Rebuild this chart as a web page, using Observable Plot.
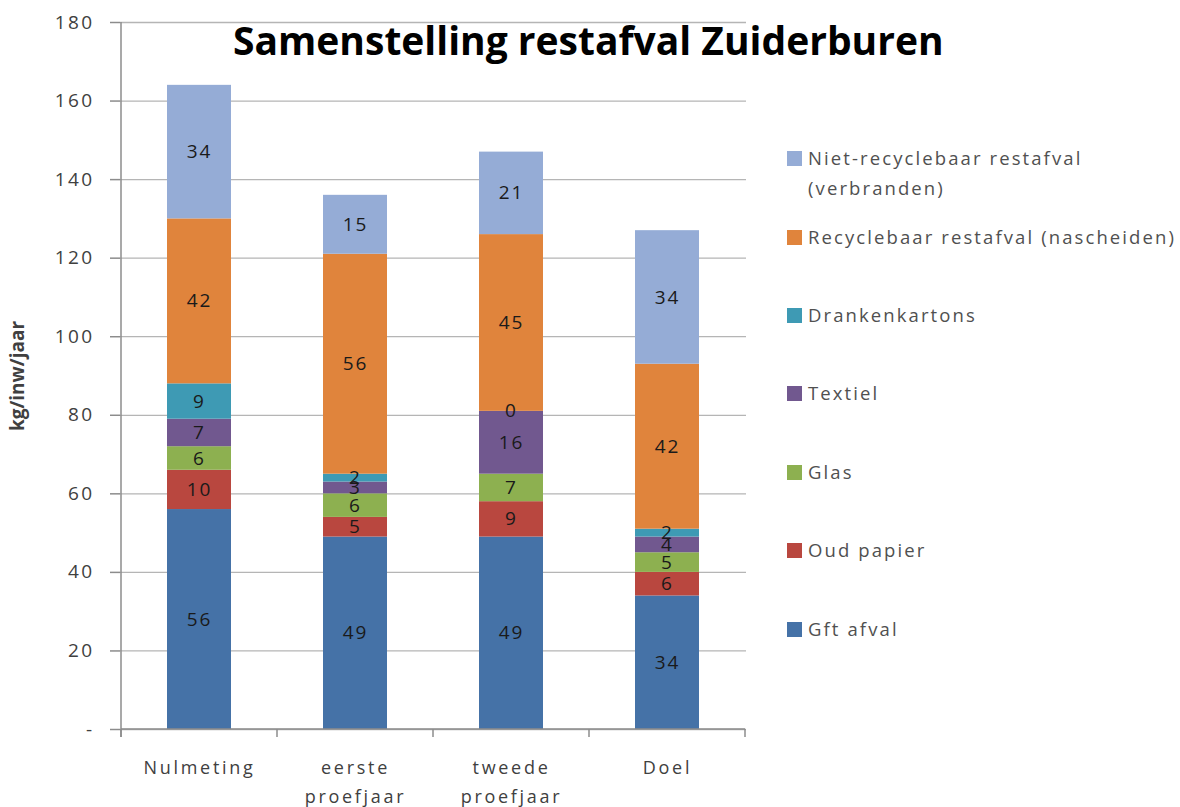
<!DOCTYPE html>
<html>
<head>
<meta charset="utf-8">
<script src="https://cdn.jsdelivr.net/npm/d3@7"></script>
<script src="https://cdn.jsdelivr.net/npm/@observablehq/plot@0.6"></script>
<style>
  body { margin: 0; background: #fff; font-family: "Open Sans", sans-serif; }
  #wrap { position: relative; width: 1180px; height: 807px; }
  #title { position: absolute; left: 0; width: 1180px; top: 14px; font-family: "Open Sans", sans-serif; font-weight: bold; font-size: 39px; line-height: 52px; color: #000; pointer-events: none; }
  #title span { position: absolute; left: 233px; white-space: nowrap; }
  #legend { position: absolute; left: 787px; top: 143px; font-family: "Open Sans", sans-serif; font-size: 18.5px; color: #505050; letter-spacing: 2.1px; }
  .item { position: absolute; left: 0; display: flex; align-items: flex-start; white-space: nowrap; line-height: 30px; }
  .sw { width: 15px; height: 15px; margin-top: 8px; margin-right: 6px; flex: none; }
  svg text { letter-spacing: 1.2px; }
  g[aria-label="y-axis label"] text { font-weight: bold; letter-spacing: 0; }
  g[aria-label="y-axis tick label"] text { font-size: 19px; letter-spacing: 2.4px; }
  g[aria-label="x-axis tick label"] text { letter-spacing: 2.7px; }
  g[aria-label="text"] text { letter-spacing: 2px; }
</style>
</head>
<body>
<div id="wrap">
  <div id="chart"></div>
  <div id="title"><span>Samenstelling restafval Zuiderburen</span></div>
  <div id="legend"></div>
</div>
<script>
const categories = ["Nulmeting", "eerste proefjaar", "tweede proefjaar", "Doel"];
const categoryLabels = ["Nulmeting", "eerste\nproefjaar", "tweede\nproefjaar", "Doel"];
const series = ["Gft afval", "Oud papier", "Glas", "Textiel", "Drankenkartons", "Recyclebaar restafval (nascheiden)", "Niet-recyclebaar restafval (verbranden)"];
const colors = ["#4572A7", "#B9473F", "#8DB050", "#71588F", "#3E9AB4", "#E0843C", "#95ACD6"];
const gftAfval       = [56, 49, 49, 34];
const oudPapier      = [10, 5, 9, 6];
const glas           = [6, 6, 7, 5];
const textiel        = [7, 3, 16, 4];
const drankenkartons = [9, 2, 0, 2];
const recyclebaar    = [42, 56, 45, 42];
const nietRecyclebaar= [34, 15, 21, 34];
const yTicks = [0, 20, 40, 60, 80, 100, 120, 140, 160, 180];
const legendLabels = ["Niet-recyclebaar restafval\n(verbranden)", "Recyclebaar restafval (nascheiden)", "Drankenkartons", "Textiel", "Glas", "Oud papier", "Gft afval"];

const valuesBySeries = [gftAfval, oudPapier, glas, textiel, drankenkartons, recyclebaar, nietRecyclebaar];
const data = [];
series.forEach((s, si) => categories.forEach((c, ci) => data.push({cat: c, series: s, value: valuesBySeries[si][ci]})));

const boundaryTicks = (index, scales, values, dimensions) => {
  const x = scales.x;
  const bw = x.bandwidth ? x.bandwidth() : (dimensions.width - dimensions.marginLeft - dimensions.marginRight) / categories.length;
  const y0 = dimensions.height - dimensions.marginBottom;
  const g = d3.create("svg:g").attr("stroke", "#8c8c8c").attr("stroke-width", 1.5);
  const xs = categories.map(c => x(c)).concat([x(categories[categories.length - 1]) + bw]);
  xs.forEach(px => g.append("line").attr("x1", px).attr("x2", px).attr("y1", y0).attr("y2", y0 + 8));
  const xl = xs[0];
  g.append("line").attr("x1", xl).attr("x2", xl).attr("y1", dimensions.marginTop).attr("y2", y0 + 8);
  g.append("line").attr("x1", xl).attr("x2", xs[xs.length - 1]).attr("y1", y0).attr("y2", y0);
  return g.node();
};

const chart = Plot.plot({
  width: 1180,
  height: 807,
  marginLeft: 120,
  marginRight: 434,
  marginTop: 22,
  marginBottom: 78,
  style: {fontFamily: "Open Sans, sans-serif", fontSize: "16px", background: "#fff"},
  x: {domain: categories, padding: 0},
  y: {domain: [0, 180]},
  color: {domain: series, range: colors},
  marks: [
    Plot.gridY(yTicks, {stroke: "#b5b5b5", strokeOpacity: 1, strokeWidth: 1.3}),
    Plot.axisY(yTicks, {tickSize: 10, tickPadding: 16, tickFormat: d => d === 0 ? "-" : d, stroke: "#8c8c8c", strokeWidth: 1.5, fill: "#404040", fontSize: 19,
      label: "kg/inw/jaar", labelAnchor: "center", labelArrow: "none", labelOffset: 110}),
    Plot.axisX({tickSize: 0, tickPadding: 24, tickFormat: c => categoryLabels[categories.indexOf(c)], fill: "#404040", fontSize: 18, label: null, lineHeight: 1.6}),
    Plot.barY(data, Plot.stackY({x: "cat", y: "value", z: "series", fill: "series", order: series, insetLeft: 46, insetRight: 46})),
    Plot.text(data, Plot.stackY({x: "cat", y: "value", z: "series", text: "value", order: series, fill: "#1a1a1a", fontSize: 19})),
    boundaryTicks
  ]
});
document.getElementById("chart").appendChild(chart);

const legend = document.getElementById("legend");
const tops = [0, 79, 157, 235, 314, 392, 471];
legendLabels.forEach((lab, i) => {
  const s = series.length - 1 - i;
  const item = document.createElement("div");
  item.className = "item";
  item.style.top = tops[i] + "px";
  const sw = document.createElement("div");
  sw.className = "sw";
  sw.style.background = colors[s];
  const t = document.createElement("div");
  t.style.whiteSpace = "pre";
  t.textContent = lab;
  item.appendChild(sw); item.appendChild(t);
  legend.appendChild(item);
});
</script>
</body>
</html>
